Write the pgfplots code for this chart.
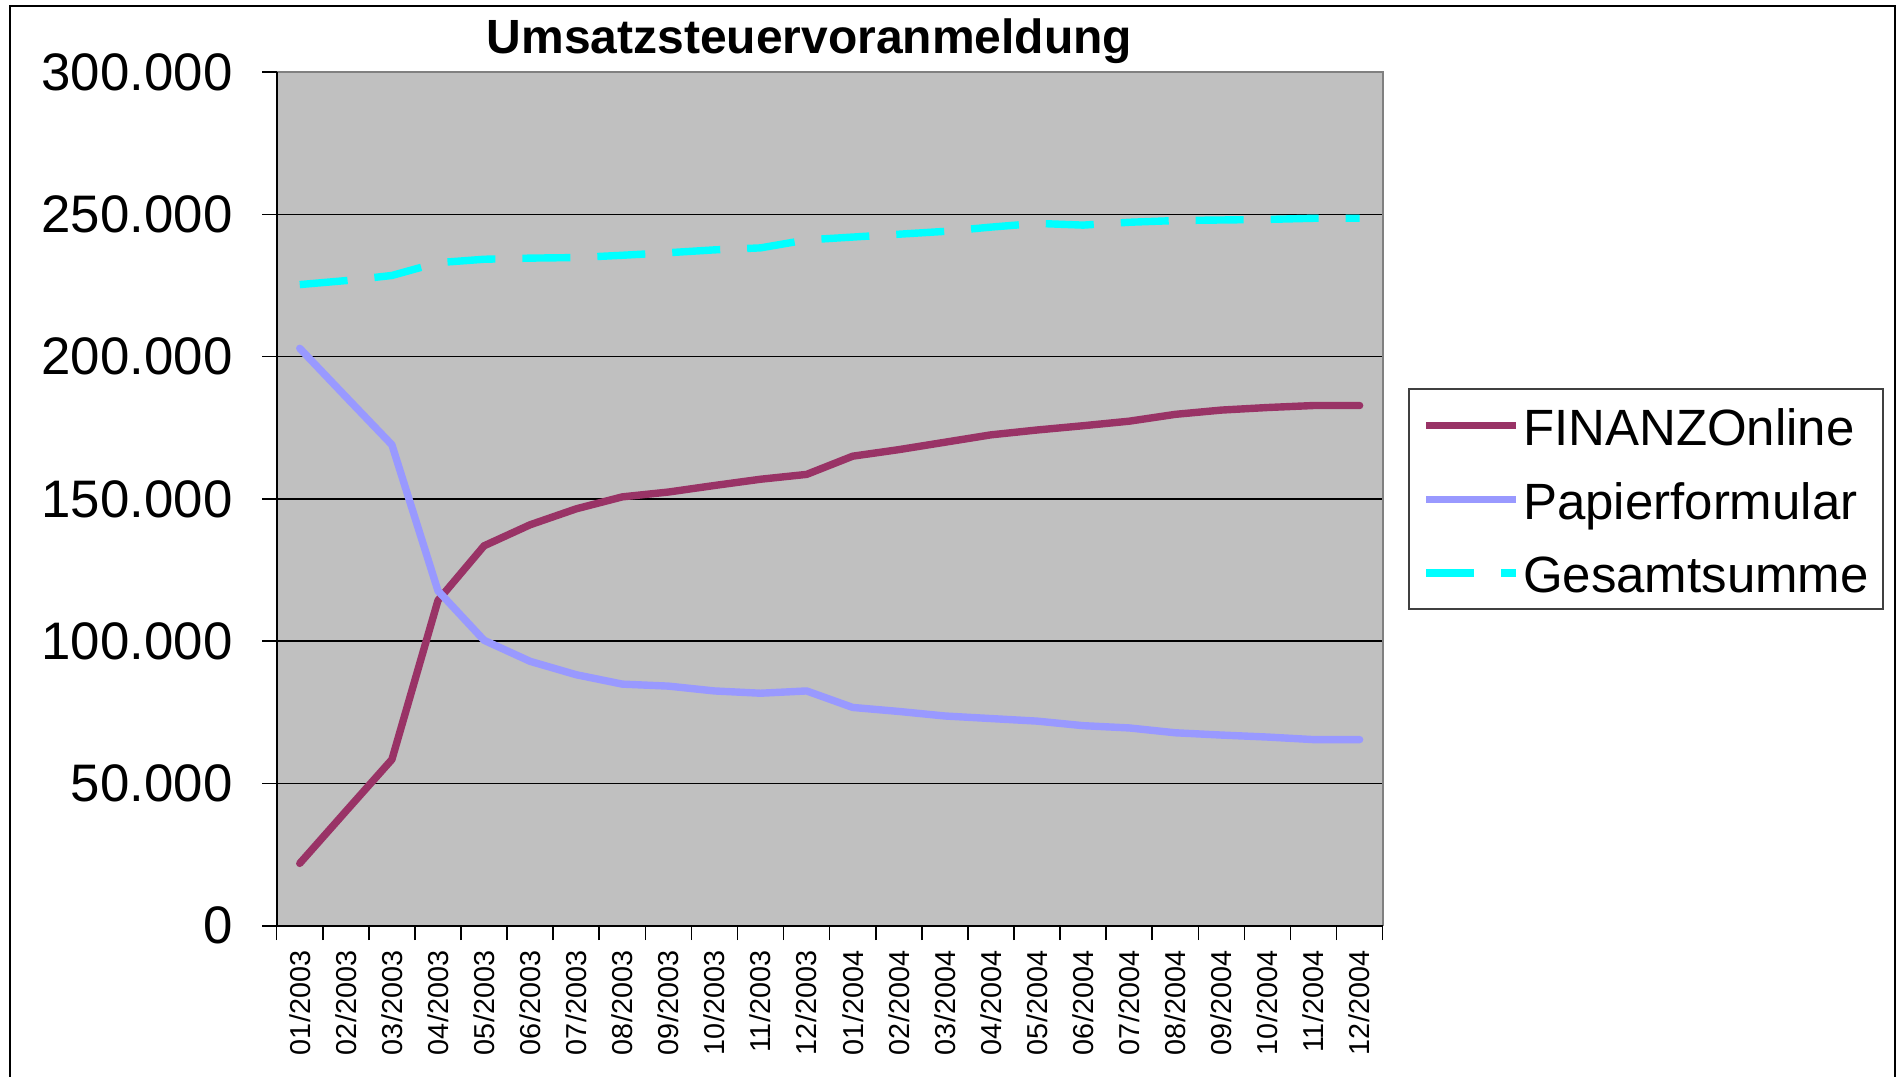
\documentclass[border=0pt]{standalone}
\usepackage{fontspec}
\setmainfont{Liberation Sans}
\usepackage{pgfplots}
\usepackage{pgfplotstable}
\pgfplotsset{compat=1.18}
\definecolor{plum}{HTML}{993366}
\definecolor{peri}{HTML}{9999FF}
\definecolor{aqua}{HTML}{00FFFF}
\definecolor{plotbg}{HTML}{C0C0C0}
\definecolor{framegray}{HTML}{808080}

\pgfplotstableread{
idx fo pf gs
0 21900 202900 225300
1 40200 185900 226700
2 58400 169000 228500
3 114300 117700 233000
4 133500 100300 234200
5 140900 92900 234600
6 146500 88200 234800
7 150700 84900 235600
8 152400 84200 236500
9 154700 82500 237500
10 156900 81700 238200
11 158600 82500 241000
12 165000 76700 242000
13 167300 75300 243000
14 169900 73700 244000
15 172500 72800 245500
16 174200 71900 246800
17 175700 70300 246200
18 177300 69500 247200
19 179700 67800 247800
20 181200 67000 248000
21 182100 66300 248200
22 182800 65400 248600
23 182800 65400 248600
}\datatable

\begin{document}
\begin{tikzpicture}
\useasboundingbox (-69.175pt,-37.575pt) rectangle (405.325pt,231.425pt);
\fill[white] (-69.175pt,-37.575pt) rectangle (405.325pt,231.425pt);
\draw[black, line width=0.5pt] (-66.675pt,-38pt) -- (-66.675pt,229.925pt) -- (404.575pt,229.925pt) -- (404.575pt,-38pt);
\node[anchor=base, inner sep=0pt, font=\fontsize{12}{14}\selectfont\bfseries] at (133.2pt,218.1pt) {Umsatzsteuervoranmeldung};
\begin{axis}[
  at={(0pt,0pt)}, anchor=south west,
  scale only axis, width=276.5pt, height=213.425pt,
  xmin=-0.5, xmax=23.5, ymin=0, ymax=300000,
  axis background/.style={fill=plotbg},
  axis line style={draw=none},
  scaled y ticks=false,
  tick pos=left,
  xtick={-0.5,0.5,...,23.5},
  xticklabel={\mbox{}},
  extra x ticks={0,1,...,23},
  extra x tick labels={01/2003,02/2003,03/2003,04/2003,05/2003,06/2003,07/2003,08/2003,09/2003,10/2003,11/2003,12/2003,01/2004,02/2004,03/2004,04/2004,05/2004,06/2004,07/2004,08/2004,09/2004,10/2004,11/2004,12/2004},
  extra x tick style={major tick length=0pt, tick style={draw=none}},
  ytick={0,50000,100000,150000,200000,250000,300000},
  yticklabels={0,50.000,100.000,150.000,200.000,250.000,300.000},
  ymajorgrids,
  grid style={black, line width=0.35pt},
  tick align=outside,
  major tick length=3.6pt,
  tick style={black, line width=0.4pt},
  xticklabel style={yshift=-6.1pt, rotate=90, anchor=east, inner sep=0pt, font=\fontsize{7.2}{8}\selectfont},
  yticklabel style={anchor=east, inner sep=0pt, xshift=-7.25pt, font=\fontsize{13.2}{15}\selectfont},
  legend style={
    at={(1.0226,0.6302)}, anchor=north west,
    draw=black!75, line width=0.5pt, fill=white,
    inner xsep=3.5pt, inner ysep=3.15pt,
    font=\fontsize{12.75}{15}\selectfont,
    column sep=0.75pt, row sep=6.4pt,
    nodes={inner sep=0pt, text height=11.1pt, text depth=0.9pt},
    cells={anchor=base west},
  },
  legend image code/.code={\draw[#1, line cap=butt] (0pt,5pt) -- (22.5pt,5pt);},
]
\addplot[plum, line width=1.85pt, line join=round, line cap=round] table[x=idx, y=fo]{\datatable};
\addlegendentry{FINANZOnline}
\addplot[peri, line width=1.85pt, line join=round, line cap=round] table[x=idx, y=pf]{\datatable};
\addlegendentry{Papierformular}
\addplot[aqua, line width=1.85pt, dash pattern=on 12pt off 6.75pt] table[x=idx, y=gs]{\datatable};
\addlegendentry{Gesamtsumme}
\end{axis}
\draw[framegray, line width=0.6pt] (0pt,213.425pt) -- (276.5pt,213.425pt) -- (276.5pt,0pt);
\draw[black, line width=0.5pt] (0pt,213.425pt) -- (0pt,0pt) -- (276.5pt,0pt);
\end{tikzpicture}
\end{document}
